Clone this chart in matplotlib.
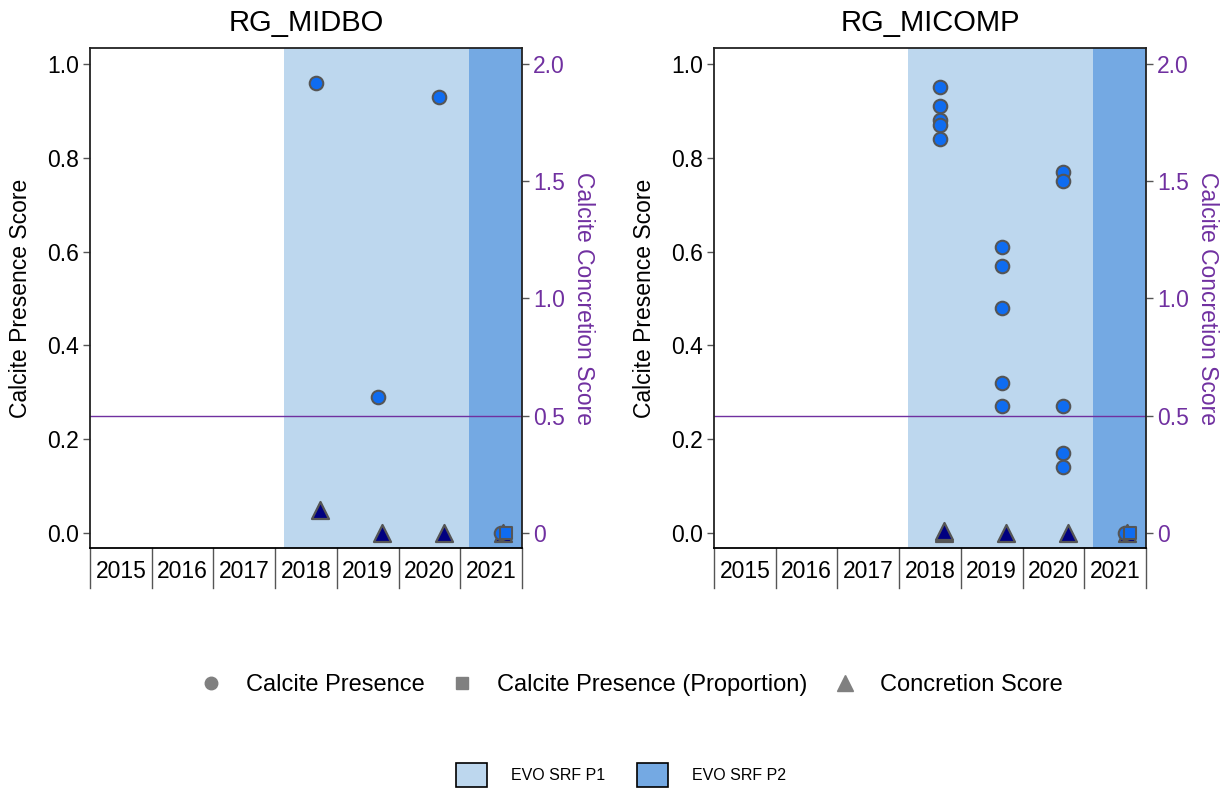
import matplotlib
matplotlib.use("Agg")
import matplotlib.pyplot as plt
from matplotlib.lines import Line2D
from matplotlib.patches import Patch
import matplotlib.transforms as mtransforms

plt.rcParams['font.family'] = ['Liberation Sans', 'DejaVu Sans']

# ---- data ----
sites = ["RG_MIDBO", "RG_MICOMP"]
years = [2015, 2016, 2017, 2018, 2019, 2020, 2021]
period_p1 = (2018.14, 2021.14)
period_p2 = (2021.14, 2022.0)
threshold = 0.25

# Calcite presence (circles), decimal-year sample dates
midbo_presence_x = [2018.66, 2019.67, 2020.66, 2021.66]
midbo_presence_y = [0.96, 0.29, 0.93, 0.0]
micomp_presence_x = [2018.67] * 5 + [2019.66] * 5 + [2020.66] * 5 + [2021.66]
micomp_presence_y = [0.95, 0.91, 0.88, 0.87, 0.84,
                     0.61, 0.57, 0.48, 0.32, 0.27,
                     0.77, 0.75, 0.27, 0.17, 0.14,
                     0.0]
# Calcite presence proportion (squares)
midbo_prop_x = [2021.74]
midbo_prop_y = [0.0]
micomp_prop_x = [2021.74]
micomp_prop_y = [0.0]
# Concretion score (triangles, right axis 0-2)
midbo_conc_x = [2018.73, 2019.73, 2020.74, 2021.70]
midbo_conc_y = [0.1, 0.0, 0.0, 0.0]
micomp_conc_x = [2018.73, 2018.73, 2019.73, 2020.73, 2021.70]
micomp_conc_y = [0.0, 0.01, 0.0, 0.0, 0.0]

panels = [
    (midbo_presence_x, midbo_presence_y, midbo_prop_x, midbo_prop_y, midbo_conc_x, midbo_conc_y),
    (micomp_presence_x, micomp_presence_y, micomp_prop_x, micomp_prop_y, micomp_conc_x, micomp_conc_y),
]

# ---- style ----
P1_COL = "#bdd7ee"
P2_COL = "#74a9e3"
PURPLE = "#7030a0"
PT_BLUE = "#0f6cf0"
NAVY = "#000080"
EDGE = "#555555"
FS = 16.5

W, H = 1231, 795
fig = plt.figure(figsize=(W / 100, H / 100), dpi=100)

lefts = [90, 714]
ax_w, ax_top, ax_bot = 432, 48, 548
ylim = (-0.032, 1.034)

for i, (site, data) in enumerate(zip(sites, panels)):
    px, py, sx, sy, cx, cy = data
    ax = fig.add_axes([lefts[i] / W, 1 - ax_bot / H, ax_w / W, (ax_bot - ax_top) / H])
    ax2 = ax.twinx()
    ax2.set_zorder(ax.get_zorder() - 1)
    ax.patch.set_visible(False)

    # shading on the back (twin) axes
    ax2.axvspan(*period_p1, color=P1_COL, lw=0, zorder=0)
    ax2.axvspan(*period_p2, color=P2_COL, lw=0, zorder=0)
    ax2.scatter(cx, cy, marker="^", s=150, facecolor=NAVY, edgecolor=EDGE, linewidth=1.6, zorder=3)

    ax.axhline(threshold, color=PURPLE, lw=1.0, zorder=2)
    ax.scatter(px, py, marker="o", s=95, facecolor=PT_BLUE, edgecolor=EDGE, linewidth=1.5, zorder=3)
    ax.scatter(sx, sy, marker="s", s=75, facecolor=PT_BLUE, edgecolor=EDGE, linewidth=1.5, zorder=4)

    ax.set_xlim(years[0], years[-1] + 1)
    ax.set_ylim(*ylim)
    ax2.set_ylim(ylim[0] * 2, ylim[1] * 2)

    ax.set_yticks([0, 0.2, 0.4, 0.6, 0.8, 1.0])
    ax.set_yticklabels(["0.0", "0.2", "0.4", "0.6", "0.8", "1.0"])
    ax2.set_yticks([0, 0.5, 1.0, 1.5, 2.0])
    ax2.set_yticklabels(["0", "0.5", "1.0", "1.5", "2.0"])
    ax.set_xticks([])
    ax2.set_xticks([])

    ax.tick_params(axis="y", labelsize=FS, length=5, width=1, color=EDGE, pad=3, labelcolor="black")
    ax2.tick_params(axis="y", labelsize=FS, length=5, width=1, color=EDGE, pad=3, labelcolor=PURPLE)

    for sp in ax2.spines.values():
        sp.set_visible(False)
    for name, sp in ax.spines.items():
        sp.set_color("#222222")
        sp.set_linewidth(1.3)
    ax.spines["bottom"].set_color("black")

    ax.set_title(site, fontsize=21, pad=12)
    ax.set_ylabel("Calcite Presence Score", fontsize=FS)
    ax.yaxis.set_label_coords(-0.134, 0.5)
    ax2.set_ylabel("Calcite Concretion Score", fontsize=FS, color=PURPLE, rotation=270, va="center")
    ax2.yaxis.set_label_coords(1.142, 0.5)

    # year labels and dividers below the axis
    trans = mtransforms.blended_transform_factory(ax.transData, ax.transAxes)
    for y in years:
        ax.text(y + 0.5, -0.048, str(y), transform=trans, ha="center", va="center", fontsize=FS)
    for b in years + [years[-1] + 1]:
        ax.add_line(Line2D([b, b], [0, -0.08], transform=trans, color=EDGE, lw=1.0, clip_on=False))

# legends
h1 = [
    Line2D([], [], marker="o", ls="", color="#808080", markersize=9, label="Calcite Presence"),
    Line2D([], [], marker="s", ls="", color="#808080", markersize=8, label="Calcite Presence (Proportion)"),
    Line2D([], [], marker="^", ls="", color="#808080", markersize=12, label="Concretion Score"),
]
fig.legend(handles=h1, loc="center", bbox_to_anchor=(631 / W, 1 - 685 / H), ncol=3,
           frameon=False, fontsize=17, handletextpad=1.0, columnspacing=1.06, handlelength=1.0)

h2 = [
    Patch(facecolor=P1_COL, edgecolor="black", lw=1.2, label="EVO SRF P1"),
    Patch(facecolor=P2_COL, edgecolor="black", lw=1.2, label="EVO SRF P2"),
]
fig.legend(handles=h2, loc="center", bbox_to_anchor=(621 / W, 1 - 775 / H), ncol=2,
           frameon=False, fontsize=11.5, handlelength=1.94, handleheight=1.94,
           handletextpad=1.56, columnspacing=1.94)

fig.savefig("out.png", dpi=100)
